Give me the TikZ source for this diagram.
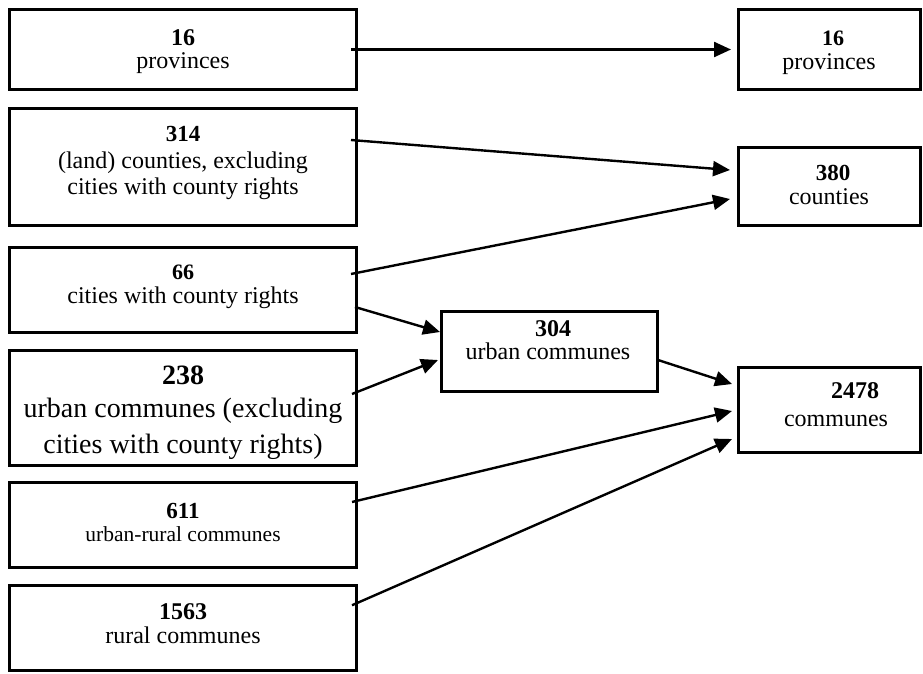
\documentclass[tikz,border=0pt]{standalone}
\usepackage{fontspec}
\setmainfont{Liberation Serif}
\usetikzlibrary{arrows.meta}
\tikzset{
  x=1pt, y=1pt,
  box/.style={draw=black, line width=3pt, rectangle, inner sep=0pt, fill=white},
  num/.style={anchor=base, inner sep=0pt, font=\fontsize{24}{26}\selectfont\bfseries},
  txt/.style={anchor=base, inner sep=0pt, font=\fontsize{24}{28}\selectfont},
  arr/.style={line width=2.4pt, -{Triangle[length=17pt,width=15pt]}},
}
\begin{document}
\begin{tikzpicture}
\useasboundingbox (0,0) rectangle (923,-673);
% left column boxes
\node[box, minimum width=347pt, minimum height=80pt]  (b1) at (183,-49.5) {};
\node[box, minimum width=347pt, minimum height=117pt] (b2) at (183,-167) {};
\node[box, minimum width=347pt, minimum height=85pt]  (b3) at (183,-290) {};
\node[box, minimum width=347pt, minimum height=115pt] (b4) at (183,-408) {};
\node[box, minimum width=347pt, minimum height=85pt]  (b5) at (183,-525) {};
\node[box, minimum width=347pt, minimum height=85pt]  (b6) at (183,-628) {};
% middle box
\node[box, minimum width=216pt, minimum height=80pt]  (m)  at (549.5,-351.5) {};
% right column boxes
\node[box, minimum width=182pt, minimum height=80pt]  (r1) at (829.5,-49.5) {};
\node[box, minimum width=182pt, minimum height=78pt]  (r2) at (829.5,-186.5) {};
\node[box, minimum width=182pt, minimum height=85pt]  (r3) at (829.5,-410) {};
% texts
\node[num] (t1a) at (183,-45) {16};
\node[txt] (t1b) at (183,-68) {provinces};
\node[num, font=\fontsize{23}{26}\selectfont\bfseries] (t2a) at (183,-141.5) {314};
\node[txt] (t2b) at (183,-168) {(land) counties, excluding};
\node[txt] (t2c) at (183,-194) {cities with county rights};
\node[num, font=\fontsize{22}{26}\selectfont\bfseries] (t3a) at (183,-279) {66};
\node[txt] (t3b) at (183,-303) {cities with county rights};
\node[num, font=\fontsize{28}{30}\selectfont\bfseries] (t4a) at (183,-384) {238};
\node[txt, font=\fontsize{28}{32}\selectfont] (t4b) at (183,-417) {urban communes (excluding};
\node[txt, font=\fontsize{28}{32}\selectfont] (t4c) at (183,-453) {cities with county rights)};
\node[num, font=\fontsize{23}{26}\selectfont\bfseries] (t5a) at (183,-518) {611};
\node[txt, font=\fontsize{21.5}{26}\selectfont] (t5b) at (183,-541) {urban-rural communes};
\node[num] (t6a) at (183,-619) {1563};
\node[txt] (t6b) at (183,-643) {rural communes};
\node[num] (tma) at (553,-336.5) {304};
\node[txt] (tmb) at (548,-359) {urban communes};
\node[num, font=\fontsize{22}{26}\selectfont\bfseries] (tr1a) at (833,-45) {16};
\node[txt] (tr1b) at (829,-69) {provinces};
\node[num, font=\fontsize{23}{26}\selectfont\bfseries] (tr2a) at (833,-180) {380};
\node[txt] (tr2b) at (829,-204) {counties};
\node[num] (tr3a) at (855,-398) {2478};
\node[txt] (tr3b) at (836,-426) {communes};
% connectors
\draw[arr] ([xshift=-7pt]b1.east) -- ([xshift=-6pt]r1.west);
\draw[arr] ([xshift=-7pt,yshift=27pt]b2.east) -- ([xshift=-7pt,yshift=16.5pt]r2.west);
\draw[arr] ([xshift=-7pt,yshift=16pt]b3.east) -- ([xshift=-7pt,yshift=-12.5pt]r2.west);
\draw[arr] ([xshift=-3pt,yshift=-17pt]b3.east) -- ([yshift=19.5pt]m.west);
\draw[arr] ([xshift=-6pt,yshift=14pt]b4.east) -- ([xshift=-2pt,yshift=-8.5pt]m.west);
\draw[arr] ([xshift=-1pt,yshift=-8.5pt]m.east) -- ([xshift=-5pt,yshift=26pt]r3.west);
\draw[arr] ([xshift=-6pt,yshift=23pt]b5.east) -- ([xshift=-5pt,yshift=-1pt]r3.west);
\draw[arr] ([xshift=-6pt,yshift=22.75pt]b6.east) -- ([xshift=-5pt,yshift=-29pt]r3.west);
\end{tikzpicture}
\end{document}
